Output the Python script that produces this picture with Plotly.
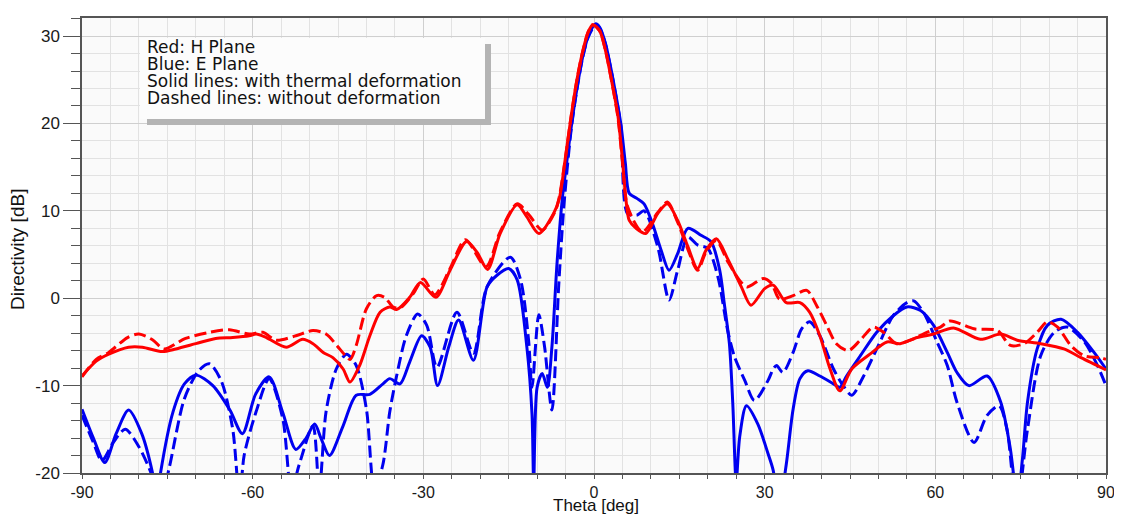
import plotly.graph_objects as go

# ---------------- data ----------------
h_thermal_theta = [-90, -87.5, -85.3, -81.8, -79.4, -75.9, -73.5, -70, -66.5, -63.5, -60.6, -59.4, -57.6,
                   -54.1, -51.2, -49.4, -47.6, -45.9, -44.1, -42.9, -41.2, -39.4, -37.6, -35.9, -34.7,
                   -32.4, -30.5, -27.8, -25.3, -22.4, -20.6, -18.7, -16.5, -13.5, -11.8, -9.7, -7.1,
                   -6.1, -5, -4, -3, -2, -1, -0.2, 1, 2, 3, 4.2, 5, 5.6, 6.2, 7.4, 9.1, 11.2,
                   12.9, 14.7, 16.5, 18.2, 19.7, 21.5, 23.5, 25.9, 27.6, 30, 31.5, 33.8, 36.2, 37.9,
                   39.7, 41.5, 43.2, 45.3, 48.5, 51.5, 53.8, 56.8, 59.7, 63.2, 67.9, 71.5, 74.4, 78.5,
                   82.6, 85.6, 90]
h_thermal_db = [-8.9, -7.2, -6.4, -5.6, -5.6, -6.1, -5.8, -5.2, -4.6, -4.5, -4.3, -4.1, -4.5,
                -5.6, -4.7, -5.2, -6.2, -6.8, -8.1, -9.6, -7.7, -4.3, -1.6, -1.0, -1.3,
                0.1, 1.8, 0.1, 3.2, 6.5, 5.3, 3.3, 7.4, 10.7, 9.3, 7.4, 9.7,
                11.4, 16.2, 20.9, 25.0, 28.2, 30.5, 31.3, 30.6, 28.4, 25.2, 20.9, 15.8, 11.4, 8.9, 8.0, 7.4, 9.7,
                10.8, 8.9, 5.9, 3.4, 5.5, 6.8, 4.5, 1.3, -0.8, 1.1, 1.5, -0.5, -0.5, -1.6,
                -4.3, -8.1, -10.6, -8.1, -6.4, -5.0, -5.2, -4.5, -4.1, -3.4, -4.7, -4.1, -4.8, -5.2,
                -5.8, -6.8, -8.2]

h_nominal_theta = [-90, -87.5, -85.3, -82, -80, -77.5, -75.6, -71.8, -67.6, -64.1, -60.6, -58.2, -55.9,
                   -52.4, -49.4, -47.1, -44.7, -42.9, -41.8, -40, -38.2, -36.8, -35.3, -34.1, -31.8,
                   -30, -28, -25.3, -22.6, -19, -16.5, -13.5, -11.5, -9.1, -6.8, -6.1, -5, -4, -3, -2, -1,
                   -0.2, 1, 2, 3, 4.2, 5, 5.9, 8.5, 11.2, 12.9, 14.7, 16.5, 18.2, 19.7, 21.5,
                   23.5, 25.9, 27, 29.7, 31.2, 32.6, 35, 37.4, 39.1, 40.9, 42.6, 44.7, 46.8, 49.1, 50.9,
                   53.2, 55.6, 58.5, 60.9, 62.6, 66.8, 70.9, 73.2, 75.6, 77.9, 79.7, 81.5, 83.8, 86.2,
                   89.1, 90]
h_nominal_db = [-9.0, -7.0, -6.2, -4.5, -4.1, -4.8, -5.8, -4.6, -3.9, -3.6, -4.1, -3.9, -4.8,
                -4.3, -3.7, -4.1, -5.8, -7.0, -5.4, -1.2, 0.3, 0.1, -1.0, -1.1, 0.5,
                2.2, 0.4, 3.4, 6.7, 3.6, 7.6, 10.8, 9.6, 7.8, 10.0, 11.6, 16.2, 20.9, 25.0, 28.2, 30.5,
                31.3, 30.6, 28.4, 25.2, 20.7, 15.6, 10.5, 7.6, 9.8, 11.0, 8.7, 5.6, 3.2, 5.3, 6.6,
                4.2, 1.8, 1.3, 2.25, 1.7, -0.1, 0.3, 0.9, -0.8, -3.1, -5.2, -6.0, -4.8, -3.3, -3.9,
                -5.2, -4.8, -3.9, -3.3, -2.6, -3.5, -3.7, -5.4, -5.2, -3.9, -2.7, -3.3, -5.4, -6.6,
                -6.8, -7.0]

e_thermal_theta = [-90, -88, -86, -84, -81.8, -79.5, -77.6, -76.8, -76.2, -74, -72, -70, -67, -64, -61.8,
                   -59.5, -57.1, -54.7, -52.4, -50.6, -49.1, -48, -46.5, -44.1, -41.8, -39.4, -37.1,
                   -35.9, -34.1, -32.4, -30.3, -28.8, -27.5, -25.5, -23.8, -21.2, -18.8, -17.1, -15,
                   -13.5, -11.8, -10.9, -10.6, -10, -9.1, -8.2, -7.4, -6.5, -5.6, -5, -4, -3, -2, -1,
                   0.3, 1, 2, 3, 4, 4.75, 5.5, 6.2, 7.6, 8.8, 10.3, 11.8, 13.2, 14.7, 16.5, 18.8, 20.6,
                   22.1, 22.9, 23.8, 24.4, 25, 25.6, 26.8, 28.8, 30.6, 31.5, 32.5, 33.8, 35, 36.2, 37.6,
                   39.7, 42.1, 43.2, 44.4, 46.8, 49.7, 52.6, 55, 57.4, 59.7, 62.1, 63.8, 65.9, 69.1,
                   71.5, 73.2, 74.4, 75.3, 76.2, 77.9, 79.7, 82.1, 85, 87.9, 90]
e_thermal_db = [-12.7, -16.0, -18.8, -15.5, -12.8, -15.5, -20.0, -23.0, -20.0, -13.0, -9.8, -8.8, -10.0, -12.8, -15.5,
                -11.0, -9.0, -13.1, -17.3, -16.0, -14.4, -16.0, -18.0, -14.6, -11.1, -11.0, -9.8,
                -9.2, -9.8, -7.3, -4.3, -5.6, -10.0, -5.5, -2.5, -7.1, 1.3, 2.6, 3.4,
                2.1, -5.6, -13.2, -21.0, -10.2, -8.6, -10.2, -5.6, 4.0, 11.2, 14.5, 19.6, 24.0, 27.6, 30.0,
                31.4, 31.0, 29.2, 26.2, 22.7, 19.8, 15.5, 12.0, 11.4, 10.8, 8.5, 5.5, 3.2, 5.1, 8.0, 7.2, 6.45,
                3.2, -0.6, -5.2, -12.1, -21.0, -15.9, -12.3, -14.4, -17.8, -19.7, -24.0, -19.0, -12.7, -9.2, -8.3,
                -8.9, -9.8, -10.2, -8.9, -6.6, -3.9, -2.0, -1.0, -1.4, -3.1, -6.2, -8.5, -10.0, -8.9,
                -11.9, -17.3, -23.0, -18.5, -11.9, -5.8, -3.1, -2.4, -3.9, -6.2, -8.1]

e_nominal_theta = [-90, -88, -86.5, -84.5, -82.4, -80, -77.6, -76.5, -74.7, -72, -69.5, -67.6, -65.5,
                   -63.5, -62.3, -61.5, -59.4, -57.1, -54.7, -53.2, -51.8, -49.4, -48.3, -47.1, -45.3,
                   -43.5, -41.8, -40, -38.6, -37.1, -35.9, -34.7, -33, -31, -29.4, -27.6, -24.1, -21.2,
                   -18.8, -14.7, -12.9, -11.5, -10.9, -9.7, -8.7, -7.4, -6.2, -5.3, -4, -3, -2, -1, 0.3,
                   1, 2, 3, 4, 4.75, 5.9, 7.5, 8.8, 11.2, 13.2, 14.7, 16.5, 18.2, 20, 21.8, 23.5, 24.7,
                   26.5, 28.2, 30.6, 31.5, 32.1, 33.2, 35, 36.5, 37.9, 39.7, 42.1, 43.8, 45.3, 47.4,
                   49.7, 52.6, 55, 56.2, 57.9, 60.3, 62.1, 63.8, 66.8, 69.1, 71.2, 72.6, 74.3, 76.2,
                   78.5, 80.9, 83.2, 86.2, 88.5, 90]
e_nominal_db = [-13.4, -16.5, -18.6, -16.5, -15.0, -17.0, -20.5, -24.0, -19.5, -11.5, -8.3, -7.5, -9.5,
                -15.0, -23.0, -18.0, -13.0, -9.2, -13.8, -22.0, -19.0, -14.6, -22.0, -13.0, -8.1,
                -6.4, -7.7, -12.7, -22.0, -19.0, -13.0, -8.9, -4.3, -1.8, -3.1, -7.9, -1.6, -6.3,
                1.3, 4.7, 2.1, -4.8, -10.2, -1.9, -5.5, -12.8, 1.5, 10.5, 19.4, 23.9, 27.5, 29.9, 31.3,
                30.9, 29.1, 26.1, 22.6, 19.6, 9.7, 9.5, 10.0, 5.9, -0.2, 3.2, 7.0, 6.1, 5.7, 2.4, -3.7, -6.7,
                -9.4, -11.7, -9.4, -8.1, -7.7, -8.5, -6.2, -3.5, -2.7, -4.3, -8.1, -10.0, -11.1, -8.9,
                -5.8, -2.0, -0.5, -0.3, -1.6, -5.0, -7.7, -11.9, -16.5, -13.4, -12.3, -15.0, -24.0, -15.0,
                -6.6, -3.9, -3.3, -5.0, -7.7, -10.0]

x_tick_vals = [-90, -60, -30, 0, 30, 60, 90]
y_tick_vals = [-20, -10, 0, 10, 20, 30]
note_lines = ["Red: H Plane", "Blue: E Plane",
              "Solid lines: with thermal deformation", "Dashed lines: without deformation"]

# ---------------- layout geometry (window pixels) ----------------
WIN_W, WIN_H = 1122, 514
OFF = 8                       # default page margin around the plot div
W, H = WIN_W - OFF, WIN_H - OFF
PLOT_L, PLOT_R, PLOT_T, PLOT_B = 82, 1106, 18, 473   # plot-area edges in window pixels
L, T = PLOT_L - OFF, PLOT_T - OFF
R = W - (PLOT_R - OFF)
B = H - (PLOT_B - OFF)
PW, PH = PLOT_R - PLOT_L, PLOT_B - PLOT_T


def px(x):
    return (x - PLOT_L) / PW


def py(y):
    return (PLOT_B - y) / PH


RED = "#ff0000"
BLUE = "#0000f0"
FONT = "Liberation Sans, Arial, sans-serif"

fig = go.Figure()
common = dict(mode="lines", line_shape="spline", showlegend=False, hoverinfo="skip")
fig.add_trace(go.Scatter(x=e_nominal_theta, y=e_nominal_db,
                         line=dict(color=BLUE, width=3, dash="12px,5px", smoothing=0.8), **common))
fig.add_trace(go.Scatter(x=e_thermal_theta, y=e_thermal_db,
                         line=dict(color=BLUE, width=3, smoothing=0.8), **common))
fig.add_trace(go.Scatter(x=h_nominal_theta, y=h_nominal_db,
                         line=dict(color=RED, width=3, dash="12px,5px", smoothing=0.8), **common))
fig.add_trace(go.Scatter(x=h_thermal_theta, y=h_thermal_db,
                         line=dict(color=RED, width=3, smoothing=0.8), **common))

axis_common = dict(showline=True, linecolor="#555555", linewidth=1.5, mirror=True, automargin=False,
                   showgrid=True, gridcolor="#cfcfcf", gridwidth=1, zeroline=False,
                   ticks="outside", tickcolor="#555555")

fig.update_xaxes(range=[-90, 90], tickvals=x_tick_vals, ticktext=[str(v) for v in x_tick_vals],
                 ticklen=4, tickwidth=1,
                 tickfont=dict(family=FONT, size=16, color="#1a1a1a"),
                 minor=dict(dtick=5, tick0=0, showgrid=True, gridcolor="#e2e2e2", gridwidth=1,
                            ticks="outside", ticklen=4, tickcolor="#555555"),
                 **axis_common)
fig.update_yaxes(range=[-20, 32.07], tickvals=y_tick_vals, ticktext=[str(v) for v in y_tick_vals],
                 ticklen=17, tickwidth=1,
                 tickfont=dict(family=FONT, size=17, color="#1a1a1a"),
                 minor=dict(dtick=2, tick0=0, showgrid=True, gridcolor="#e2e2e2", gridwidth=1,
                            ticks="outside", ticklen=9, tickcolor="#555555"),
                 **axis_common)

# note box with drop shadow
shapes = [
    dict(type="rect", xref="paper", yref="paper", x0=px(147), x1=px(491), y0=py(125), y1=py(44),
         fillcolor="#b4b4b4", line=dict(width=0), layer="above"),
    dict(type="rect", xref="paper", yref="paper", x0=px(140), x1=px(485), y0=py(119), y1=py(38),
         fillcolor="#fcfcfc", line=dict(width=0), layer="above"),
]
annotations = []
for i, line in enumerate(note_lines):
    annotations.append(dict(xref="paper", yref="paper", x=px(146), y=py(47 + i * 17),
                            xanchor="left", yanchor="middle", showarrow=False, text=line, borderpad=0,
                            font=dict(family="DejaVu Sans, sans-serif", size=17, color="#111111")))
annotations.append(dict(xref="paper", yref="paper", x=px(596), y=py(505), xanchor="center",
                        yanchor="middle", showarrow=False, text="Theta [deg]", borderpad=0,
                        font=dict(family=FONT, size=17, color="#111111")))
annotations.append(dict(xref="paper", yref="paper", x=px(18), y=py(250), xanchor="center",
                        yanchor="middle", showarrow=False, text="Directivity [dB]", textangle=-90,
                        font=dict(family=FONT, size=19, color="#111111")))

fig.update_layout(width=W, height=H, margin=dict(l=L, r=R, t=T, b=B),
                  paper_bgcolor="#ffffff", plot_bgcolor="#fafafa",
                  shapes=shapes, annotations=annotations)

fig.write_html("out.html")
